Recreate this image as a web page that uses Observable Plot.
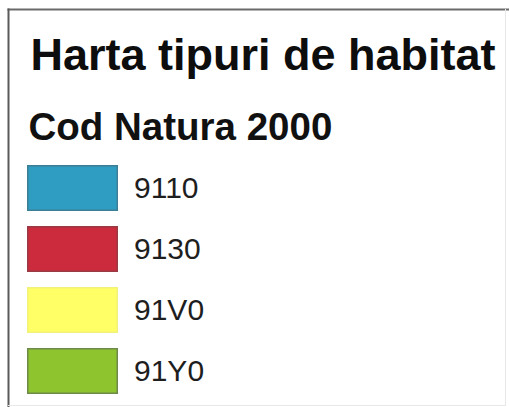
<!DOCTYPE html>
<html>
<head>
<meta charset="utf-8">
<script src="https://cdn.jsdelivr.net/npm/d3@7"></script>
<script src="https://cdn.jsdelivr.net/npm/@observablehq/plot@0.6"></script>
<style>
  html, body { margin: 0; padding: 0; background: #ffffff; }
  svg { display: block; }
</style>
</head>
<body>
<div id="chart"></div>
<script>
const title = "Harta tipuri de habitat";
const subtitle = "Cod Natura 2000";
const codes = ["9110", "9130", "91V0", "91Y0"];
const fills = ["#2f9dc2", "#cc2b3d", "#ffff66", "#8ec42e"];
const strokes = ["#3c7f94", "#9a3a44", "#f2f27a", "#6e8a48"];

const rows = codes.map((c, i) => ({code: c, fill: fills[i], stroke: strokes[i]}));

const chart = Plot.plot({
  width: 509,
  height: 407,
  margin: 0,
  style: {background: "#ffffff", fontFamily: "'Liberation Sans', Arial, sans-serif"},
  x: {type: "band", domain: ["swatch"], range: [27, 118], padding: 0, axis: null},
  y: {type: "band", domain: codes, range: [165, 394], paddingInner: 0.246, paddingOuter: 0, axis: null},
  marks: [
    Plot.frame({anchor: "top", insetLeft: 8, insetTop: 9, stroke: "#6a6a6a", strokeWidth: 2}),
    Plot.frame({anchor: "left", insetLeft: 8, insetTop: 9, stroke: "#5a5a5a", strokeWidth: 2}),
    Plot.frame({anchor: "right", insetRight: 4, insetTop: 9, insetBottom: 2, stroke: "#e8e8e8", strokeWidth: 1}),
    Plot.frame({anchor: "bottom", insetLeft: 8, insetRight: 4, insetBottom: 2, stroke: "#e8e8e8", strokeWidth: 1}),
    Plot.cell(rows, {
      x: () => "swatch",
      y: "code",
      fill: d => d.fill,
      stroke: d => d.stroke,
      strokeWidth: 1.5,
      inset: 0.75
    }),
    Plot.text(rows, {
      x: () => "swatch",
      y: "code",
      text: "code",
      textAnchor: "start",
      dx: 61,
      fontSize: 30,
      fill: "#1e1e1e"
    }),
    Plot.text([title], {
      frameAnchor: "top-left",
      text: d => d,
      textAnchor: "start",
      lineAnchor: "bottom",
      dx: 30,
      dy: 69,
      fontSize: 45,
      fontWeight: "bold",
      fill: "#0d0d0d"
    }),
    Plot.text([subtitle], {
      frameAnchor: "top-left",
      text: d => d,
      textAnchor: "start",
      lineAnchor: "bottom",
      dx: 28,
      dy: 139,
      fontSize: 38.5,
      fontWeight: "bold",
      fill: "#111111"
    })
  ]
});
document.getElementById("chart").appendChild(chart);
</script>
</body>
</html>
